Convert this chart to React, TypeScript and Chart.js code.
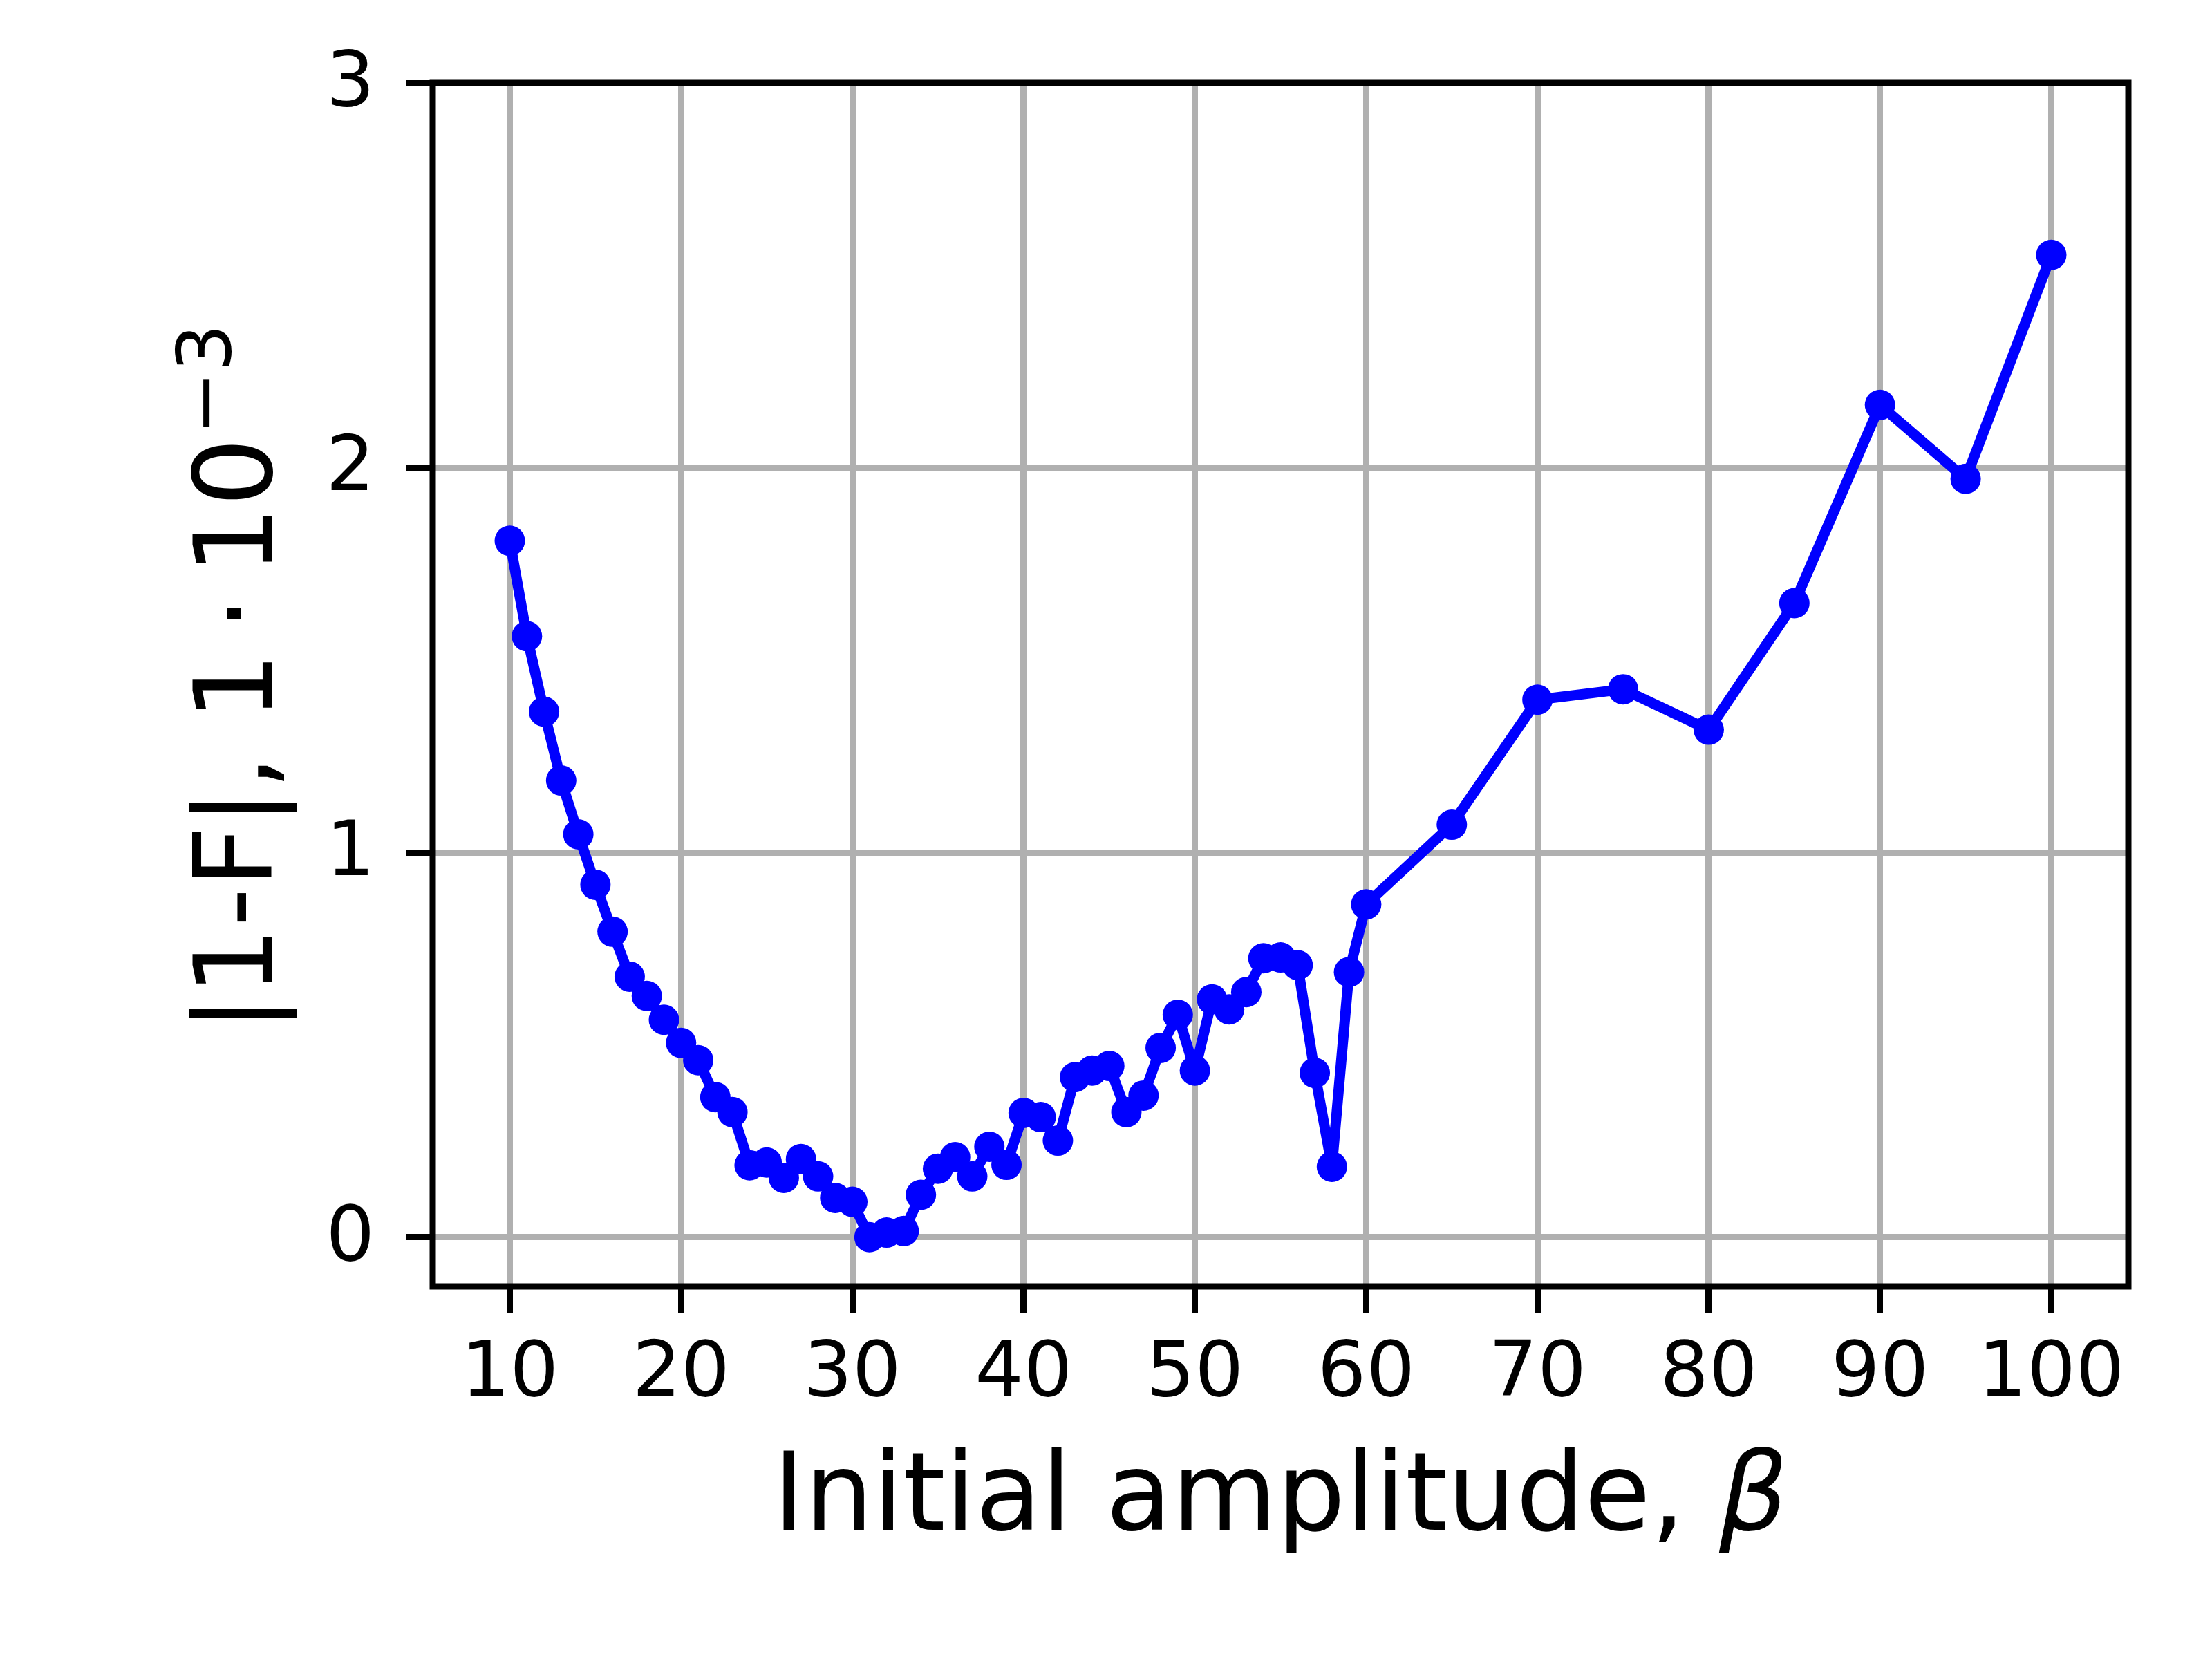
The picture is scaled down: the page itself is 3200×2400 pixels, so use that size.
import React, { useEffect, useRef } from "react";
import { Chart, registerables } from "chart.js";

Chart.register(...registerables);

const amplitudes = [
  10, 11, 12, 13, 14, 15, 16, 17, 18, 19, 20, 21, 22, 23, 24, 25, 26, 27, 28, 29, 30,
  31, 32, 33, 34, 35, 36, 37, 38, 39, 40, 41, 42, 43, 44, 45, 46, 47, 48, 49, 50,
  51, 52, 53, 54, 55, 56, 57, 58, 59, 60, 65, 70, 75, 80, 85, 90, 95, 100,
];
const infidelity = [
  1.81, 1.562, 1.366, 1.187, 1.047, 0.916, 0.794, 0.677, 0.627, 0.565, 0.505, 0.46, 0.364, 0.325, 0.187, 0.194, 0.154, 0.203, 0.158, 0.102, 0.092,
  0.0, 0.012, 0.016, 0.11, 0.178, 0.208, 0.158, 0.235, 0.188, 0.323, 0.312, 0.251, 0.416, 0.433, 0.445, 0.325, 0.368, 0.492, 0.578, 0.433,
  0.618, 0.592, 0.637, 0.725, 0.727, 0.707, 0.427, 0.183, 0.689, 0.865, 1.072, 1.397, 1.424, 1.319, 1.648, 2.163, 1.971, 2.553,
];
const xTickValues = [10, 20, 30, 40, 50, 60, 70, 80, 90, 100];
const yTickValues = [0, 1, 2, 3];
const xLabelMain = "Initial amplitude, ";
const xLabelGreek = "β";
const yLabelMain = "|1-F|, 1\u2009·\u200910";
const yLabelExp = "−3";

const FONT = "'DejaVu Sans', 'Noto Sans', sans-serif";

export default function App() {
  const ref = useRef<HTMLCanvasElement>(null);

  useEffect(() => {
    document.body.style.margin = "0";
    const canvas = ref.current;
    if (!canvas) return;

    const framePlugin = {
      id: "frameAndTitles",
      afterDatasetsDraw(chart: any) {
        const { ctx, chartArea } = chart;
        ctx.save();
        ctx.strokeStyle = "#000000";
        ctx.lineWidth = 9;
        ctx.lineJoin = "miter";
        ctx.strokeRect(
          chartArea.left,
          chartArea.top,
          chartArea.right - chartArea.left,
          chartArea.bottom - chartArea.top
        );
        ctx.restore();
      },
      afterDraw(chart: any) {
        const { ctx, chartArea } = chart;
        const cx = (chartArea.left + chartArea.right) / 2;
        const cy = (chartArea.top + chartArea.bottom) / 2;
        ctx.save();
        ctx.fillStyle = "#000000";
        ctx.textBaseline = "alphabetic";
        ctx.textAlign = "left";
        // x title
        ctx.font = `156px ${FONT}`;
        const w1 = ctx.measureText(xLabelMain).width;
        ctx.font = `italic 156px ${FONT}`;
        const w2 = ctx.measureText(xLabelGreek).width;
        const sx = cx - (w1 + w2) / 2;
        ctx.font = `156px ${FONT}`;
        ctx.fillText(xLabelMain, sx, 2213);
        ctx.font = `italic 156px ${FONT}`;
        ctx.fillText(xLabelGreek, sx + w1, 2213);
        // y title
        ctx.translate(393, cy - 8);
        ctx.rotate(-Math.PI / 2);
        ctx.font = `156px ${FONT}`;
        const m1 = ctx.measureText(yLabelMain).width;
        ctx.font = `109px ${FONT}`;
        const m2 = ctx.measureText(yLabelExp).width;
        const start = -(m1 + m2) / 2;
        ctx.font = `156px ${FONT}`;
        ctx.fillText(yLabelMain, start, 0);
        ctx.font = `109px ${FONT}`;
        ctx.fillText(yLabelExp, start + m1 + 4, -60);
        ctx.restore();
      },
    };

    const chart = new Chart(canvas, {
      type: "scatter",
      data: {
        datasets: [
          {
            data: amplitudes.map((x, i) => ({ x, y: infidelity[i] })),
            showLine: true,
            borderColor: "#0000ff",
            backgroundColor: "#0000ff",
            borderWidth: 15,
            borderJoinStyle: "round",
            borderCapStyle: "round",
            pointRadius: 22,
            pointHoverRadius: 22,
            pointBorderWidth: 0,
            pointBackgroundColor: "#0000ff",
          },
        ],
      },
      options: {
        responsive: false,
        animation: false,
        devicePixelRatio: 1,
        events: [],
        layout: { padding: { top: 120, right: 121, left: 0, bottom: 0 } },
        plugins: {
          legend: { display: false },
          tooltip: { enabled: false },
        },
        scales: {
          x: {
            type: "linear",
            min: 5.5,
            max: 104.5,
            afterBuildTicks: (s: any) => {
              s.ticks = xTickValues.map((v) => ({ value: v }));
            },
            afterFit: (s: any) => {
              s.height = 539;
            },
            ticks: {
              font: { family: FONT, size: 111 },
              color: "#000000",
              padding: 24,
              maxRotation: 0,
              autoSkip: false,
            },
            grid: {
              color: "#b0b0b0",
              lineWidth: 9,
              tickLength: 39,
              tickColor: "#000000",
              tickWidth: 9,
            },
            border: { display: false },
          },
          y: {
            type: "linear",
            min: -0.128,
            max: 3,
            afterBuildTicks: (s: any) => {
              s.ticks = yTickValues.map((v) => ({ value: v }));
            },
            afterFit: (s: any) => {
              s.width = 626;
            },
            ticks: {
              font: { family: FONT, size: 111 },
              color: "#000000",
              padding: 45,
              labelOffset: 4,
              autoSkip: false,
            },
            grid: {
              color: "#b0b0b0",
              lineWidth: 9,
              tickLength: 39,
              tickColor: "#000000",
              tickWidth: 9,
            },
            border: { display: false },
          },
        },
      },
      plugins: [framePlugin],
    });

    return () => {
      chart.destroy();
    };
  }, []);

  return (
    <canvas
      ref={ref}
      width={3200}
      height={2400}
      style={{ display: "block", width: "3200px", height: "2400px" }}
    />
  );
}
